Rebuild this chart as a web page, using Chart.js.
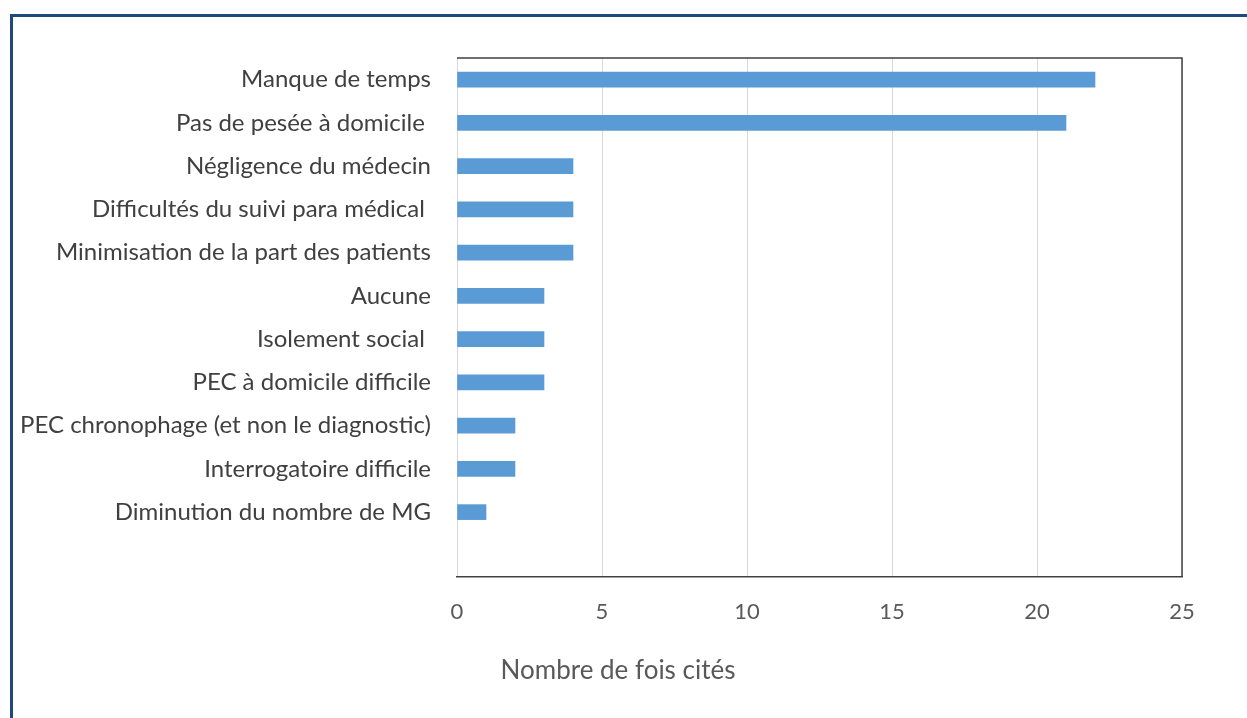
<!DOCTYPE html>
<html lang="fr">
<head>
    <meta charset="UTF-8">
    <title>Difficultés citées</title>
    <script src="https://cdn.jsdelivr.net/npm/chart.js"></script>
    <style>
        body { margin: 0; background: #fff; overflow: hidden; }
        #wrap { position: relative; width: 1247px; height: 718px; }
        #frame { position: absolute; left: 10px; top: 14px; width: 1260px; height: 740px;
                 border: 3px solid #1F497D; box-sizing: border-box; pointer-events: none; }
    </style>
</head>
<body>
    <div id="wrap">
        <canvas id="barChart" width="1247" height="718"></canvas>
        <div id="frame"></div>
    </div>

    <script>
        // categories, top to bottom (last slot is empty in the original)
        const categories = [
            'Manque de temps',
            'Pas de pesée à domicile ',
            'Négligence du médecin',
            'Difficultés du suivi para médical ',
            'Minimisation de la part des patients',
            'Aucune',
            'Isolement social ',
            'PEC à domicile difficile',
            'PEC chronophage (et non le diagnostic)',
            'Interrogatoire difficile',
            'Diminution du nombre de MG',
            ''
        ];
        const counts = [22, 21, 4, 4, 4, 3, 3, 3, 2, 2, 1, null];
        const xTicks = [0, 5, 10, 15, 20, 25];
        const axisTitle = 'Nombre de fois cités';

        const font = "Lato, 'Open Sans', sans-serif";

        // box around the plot area + axis title like the excel export
        const plotBox = {
            id: 'plotBox',
            afterDraw(chart) {
                const { ctx, chartArea: a } = chart;
                ctx.save();
                ctx.strokeStyle = '#404040';
                ctx.lineWidth = 1.5;
                ctx.beginPath();
                ctx.moveTo(a.left, a.top);
                ctx.lineTo(a.right, a.top);
                ctx.lineTo(a.right, a.bottom);
                ctx.stroke();
                ctx.fillStyle = '#595959';
                ctx.font = '26px ' + font;
                ctx.textAlign = 'center';
                ctx.textBaseline = 'middle';
                ctx.fillText(axisTitle, a.left + 161, a.bottom + 94);
                ctx.restore();
            }
        };

        const ctx = document.getElementById('barChart').getContext('2d');
        new Chart(ctx, {
            type: 'bar',
            data: {
                labels: categories,
                datasets: [{
                    data: counts,
                    backgroundColor: '#5B9BD5',
                    barThickness: 15
                }]
            },
            options: {
                indexAxis: 'y',
                responsive: false,
                animation: false,
                layout: { padding: { top: 58, right: 65, left: 0, bottom: 0 } },
                plugins: {
                    legend: { display: false },
                    tooltip: { enabled: false }
                },
                scales: {
                    x: {
                        min: 0,
                        max: 25,
                        afterBuildTicks: s => { s.ticks = xTicks.map(v => ({ value: v })); },
                        afterFit: s => { s.height = 141; },
                        grid: { color: '#D9D9D9', lineWidth: 1, drawTicks: false },
                        border: { color: '#404040', width: 1.5 },
                        ticks: { color: '#595959', padding: 22, font: { family: font, size: 22 } }
                    },
                    y: {
                        afterFit: s => { s.width = 457; },
                        grid: { display: false, drawTicks: false },
                        border: { display: false },
                        ticks: { color: '#404040', padding: 26, font: { family: font, size: 24 } }
                    }
                }
            },
            plugins: [plotBox]
        });
    </script>
</body>
</html>
